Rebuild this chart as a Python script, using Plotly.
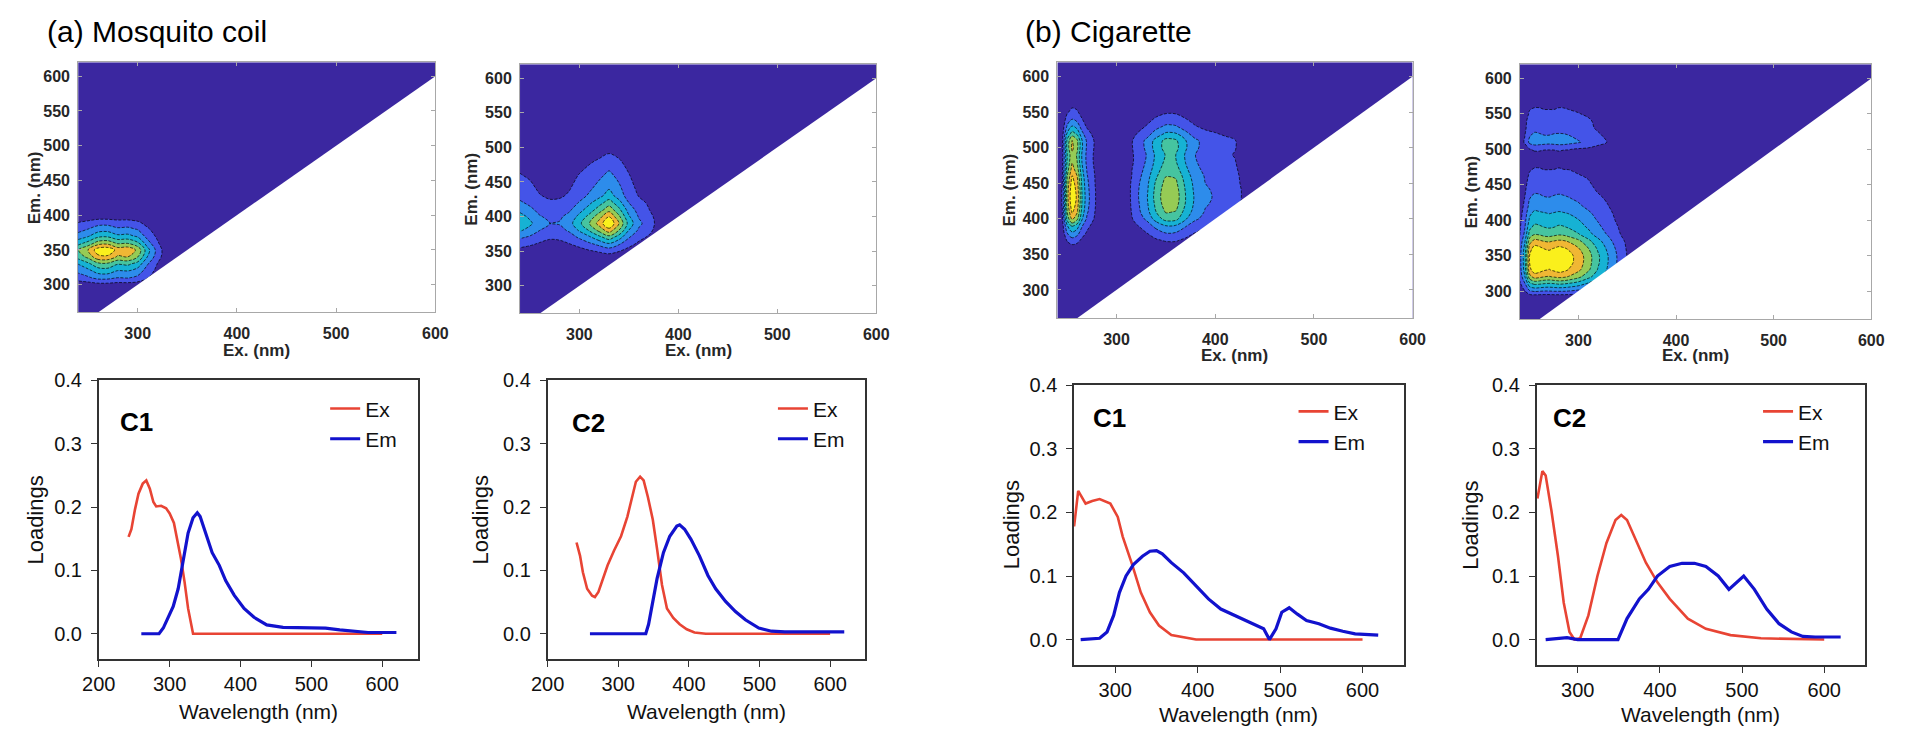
import plotly.graph_objects as go

W, H = 1906, 737
OFF = 8  # the page body keeps its default 8px margin, so the figure sits inside it
FW, FH = W - 2 * OFF, H - 2 * OFF
FONT = "Liberation Sans, Arial, Helvetica, sans-serif"

# ---------------- EEM contour maps (intensity, % of component maximum) ----------------
# (a) mosquito coil, component 1
a1_ex = [240, 250, 260, 270, 280, 290, 300, 310, 320, 330, 340, 600]
a1_em = [260, 290, 300, 310, 320, 330, 340, 350, 360, 370, 380, 390, 400, 410, 620]
a1_z = [
    [0, 0, 0, 0, 0, 0, 0, 0, 0, 0, 0, 0],
    [0, 0, 0, 0, 0, 0, 0, 0, 0, 0, 0, 0],
    [5, 6, 8, 8, 7, 7, 6, 3, 2, 0, 0, 0],
    [19, 23, 29, 29, 25, 26, 22, 13, 6, 1, 0, 0],
    [28, 34, 43, 44, 37, 38, 32, 19, 9, 1, 0, 0],
    [38, 47, 59, 60, 51, 53, 45, 26, 12, 2, 0, 0],
    [55, 66, 84, 85, 73, 75, 63, 37, 18, 3, 0, 0],
    [62, 75, 95, 97, 83, 85, 72, 42, 20, 3, 0, 0],
    [45, 54, 68, 70, 60, 61, 52, 30, 14, 2, 0, 0],
    [30, 36, 46, 47, 40, 41, 35, 20, 10, 1, 0, 0],
    [20, 25, 31, 32, 27, 28, 24, 14, 7, 1, 0, 0],
    [12, 15, 19, 19, 17, 17, 14, 8, 4, 1, 0, 0],
    [2, 2, 3, 3, 2, 3, 2, 1, 1, 0, 0, 0],
    [0, 0, 0, 0, 0, 0, 0, 0, 0, 0, 0, 0],
    [0, 0, 0, 0, 0, 0, 0, 0, 0, 0, 0, 0],
]

# (a) mosquito coil, component 2
a2_ex = [240, 250, 260, 270, 280, 290, 300, 310, 320, 330, 340, 350, 360, 370, 380, 390, 400, 600]
a2_em = [260, 330, 340, 350, 360, 370, 380, 390, 400, 410, 420, 430, 440, 460, 480, 500, 520, 620]
a2_z = [
    [0, 0, 0, 0, 0, 0, 0, 0, 0, 0, 0, 0, 0, 0, 0, 0, 0, 0],
    [0, 0, 0, 0, 0, 0, 0, 0, 0, 0, 0, 0, 0, 0, 0, 0, 0, 0],
    [2, 2, 2, 1, 1, 2, 2, 3, 4, 5, 4, 2, 1, 1, 0, 0, 0, 0],
    [8, 7, 5, 4, 4, 6, 8, 11, 14, 17, 13, 8, 5, 3, 1, 0, 0, 0],
    [17, 14, 11, 9, 9, 12, 16, 22, 28, 35, 26, 16, 10, 7, 3, 1, 0, 0],
    [27, 23, 17, 14, 15, 19, 27, 35, 46, 57, 43, 26, 16, 11, 5, 1, 0, 0],
    [39, 33, 25, 21, 21, 27, 39, 51, 66, 82, 62, 37, 23, 16, 7, 2, 0, 0],
    [48, 40, 30, 25, 26, 33, 47, 62, 80, 100, 75, 45, 28, 19, 8, 2, 0, 0],
    [42, 35, 26, 22, 23, 29, 41, 54, 70, 87, 65, 39, 24, 17, 7, 2, 0, 0],
    [34, 28, 21, 18, 18, 23, 33, 43, 56, 70, 53, 32, 20, 13, 6, 1, 0, 0],
    [27, 22, 17, 14, 15, 18, 26, 35, 45, 56, 42, 25, 16, 11, 4, 1, 0, 0],
    [21, 17, 13, 11, 11, 14, 20, 27, 34, 43, 32, 19, 12, 8, 3, 1, 0, 0],
    [18, 15, 11, 9, 10, 12, 17, 23, 30, 37, 28, 17, 10, 7, 3, 1, 0, 0],
    [13, 11, 8, 7, 7, 9, 13, 17, 22, 28, 21, 13, 8, 5, 2, 1, 0, 0],
    [9, 7, 5, 5, 5, 6, 8, 11, 14, 18, 14, 8, 5, 3, 1, 0, 0, 0],
    [4, 3, 2, 2, 2, 3, 4, 5, 6, 8, 6, 4, 2, 2, 1, 0, 0, 0],
    [0, 0, 0, 0, 0, 0, 0, 0, 0, 0, 0, 0, 0, 0, 0, 0, 0, 0],
    [0, 0, 0, 0, 0, 0, 0, 0, 0, 0, 0, 0, 0, 0, 0, 0, 0, 0],
]

# (b) cigarette, left map
b1_ex = [240, 245, 250, 255, 260, 265, 270, 280, 290, 310, 320, 330, 340, 350, 360, 370, 380, 390, 400, 410, 420, 430, 440, 600]
b1_em = [260, 350, 360, 370, 380, 390, 400, 410, 420, 430, 440, 450, 460, 470, 480, 490, 500, 510, 520, 530, 540, 550, 560, 570, 580, 620]
b1_z = [
    [0, 0, 0, 0, 0, 0, 0, 0, 0, 0, 0, 0, 0, 0, 0, 0, 0, 0, 0, 0, 0, 0, 0, 0],
    [0, 0, 0, 0, 0, 0, 0, 0, 0, 0, 0, 0, 0, 0, 0, 0, 0, 0, 0, 0, 0, 0, 0, 0],
    [1, 1, 6, 8, 7, 4, 2, 1, 0, 0, 2, 3, 4, 6, 6, 4, 3, 2, 2, 2, 1, 1, 0, 0],
    [2, 3, 14, 20, 17, 10, 6, 2, 0, 1, 4, 7, 11, 14, 14, 10, 7, 5, 5, 4, 3, 2, 1, 0],
    [3, 5, 25, 35, 30, 18, 11, 4, 1, 2, 8, 12, 19, 25, 24, 18, 12, 9, 8, 7, 6, 4, 1, 0],
    [4, 7, 36, 52, 44, 26, 16, 5, 1, 3, 11, 18, 29, 37, 36, 26, 18, 14, 12, 10, 9, 5, 2, 0],
    [6, 10, 55, 78, 66, 39, 23, 8, 2, 5, 17, 27, 43, 55, 54, 39, 27, 21, 19, 16, 13, 8, 3, 0],
    [7, 12, 63, 90, 77, 45, 27, 9, 2, 5, 20, 32, 50, 64, 62, 45, 32, 24, 22, 18, 15, 9, 4, 0],
    [8, 13, 68, 97, 82, 49, 29, 10, 2, 6, 21, 34, 53, 69, 67, 49, 34, 26, 23, 19, 16, 10, 4, 0],
    [8, 13, 70, 100, 85, 50, 30, 10, 2, 6, 22, 35, 55, 71, 69, 50, 35, 27, 24, 20, 17, 10, 4, 0],
    [8, 13, 69, 98, 83, 49, 29, 10, 2, 6, 22, 34, 54, 70, 68, 49, 34, 26, 24, 20, 17, 10, 4, 0],
    [8, 12, 66, 94, 80, 47, 28, 9, 2, 6, 21, 33, 52, 67, 65, 47, 33, 25, 23, 19, 16, 9, 4, 0],
    [7, 11, 62, 88, 75, 44, 26, 9, 2, 5, 19, 31, 48, 62, 61, 44, 31, 24, 21, 18, 15, 9, 4, 0],
    [6, 10, 56, 80, 68, 40, 24, 8, 2, 5, 18, 28, 44, 57, 55, 40, 28, 22, 19, 16, 14, 8, 3, 0],
    [6, 10, 52, 74, 63, 37, 22, 7, 1, 4, 16, 26, 41, 53, 51, 37, 26, 20, 18, 15, 13, 7, 3, 0],
    [6, 9, 50, 72, 61, 36, 22, 7, 1, 4, 16, 25, 40, 51, 50, 36, 25, 19, 17, 14, 12, 7, 3, 0],
    [6, 10, 55, 78, 66, 39, 23, 8, 2, 5, 17, 27, 43, 55, 54, 39, 27, 21, 19, 16, 13, 8, 3, 0],
    [6, 10, 53, 76, 65, 38, 23, 8, 2, 5, 17, 27, 42, 54, 52, 38, 27, 21, 18, 15, 13, 8, 3, 0],
    [4, 7, 39, 55, 47, 28, 17, 6, 1, 3, 12, 19, 30, 39, 38, 28, 19, 15, 13, 11, 9, 6, 2, 0],
    [3, 5, 27, 38, 32, 19, 11, 4, 1, 2, 8, 13, 21, 27, 26, 19, 13, 10, 9, 8, 6, 4, 2, 0],
    [2, 3, 18, 25, 21, 13, 8, 3, 1, 2, 6, 9, 14, 18, 17, 13, 9, 7, 6, 5, 4, 3, 1, 0],
    [1, 2, 11, 16, 14, 8, 5, 2, 0, 1, 4, 6, 9, 11, 11, 8, 6, 4, 4, 3, 3, 2, 1, 0],
    [1, 1, 7, 10, 9, 5, 3, 1, 0, 1, 2, 4, 6, 7, 7, 5, 4, 3, 2, 2, 2, 1, 0, 0],
    [0, 1, 3, 4, 3, 2, 1, 0, 0, 0, 1, 1, 2, 3, 3, 2, 1, 1, 1, 1, 1, 0, 0, 0],
    [0, 0, 0, 0, 0, 0, 0, 0, 0, 0, 0, 0, 0, 0, 0, 0, 0, 0, 0, 0, 0, 0, 0, 0],
    [0, 0, 0, 0, 0, 0, 0, 0, 0, 0, 0, 0, 0, 0, 0, 0, 0, 0, 0, 0, 0, 0, 0, 0],
]

# (b) cigarette, right map
b2_ex = [240, 245, 250, 255, 260, 265, 270, 275, 280, 285, 290, 300, 310, 320, 330, 340, 350, 360, 600]
b2_em = [260, 290, 300, 310, 320, 330, 340, 350, 360, 370, 380, 390, 400, 410, 420, 430, 440, 450, 460, 470,
         480, 490, 500, 510, 520, 530, 540, 550, 560, 570, 620]
b2_z = [
    [0, 0, 0, 0, 0, 0, 0, 0, 0, 0, 0, 0, 0, 0, 0, 0, 0, 0, 0],
    [0, 0, 0, 0, 0, 0, 0, 0, 0, 0, 0, 0, 0, 0, 0, 0, 0, 0, 0],
    [5, 12, 24, 27, 26, 25, 25, 26, 26, 26, 25, 22, 18, 14, 10, 6, 3, 1, 0],
    [10, 23, 46, 52, 51, 49, 48, 49, 51, 50, 48, 43, 35, 27, 20, 12, 6, 2, 0],
    [16, 36, 70, 80, 78, 75, 74, 76, 78, 77, 74, 66, 54, 42, 30, 19, 10, 3, 0],
    [19, 43, 84, 95, 93, 89, 87, 90, 93, 91, 87, 78, 65, 49, 36, 23, 11, 4, 0],
    [20, 45, 88, 100, 98, 94, 92, 95, 98, 96, 92, 82, 68, 52, 38, 24, 12, 4, 0],
    [20, 45, 88, 100, 98, 94, 92, 95, 98, 96, 92, 82, 68, 52, 38, 24, 12, 4, 0],
    [19, 42, 82, 93, 91, 87, 86, 88, 91, 89, 86, 76, 63, 48, 35, 22, 11, 4, 0],
    [16, 36, 70, 80, 78, 75, 74, 76, 78, 77, 74, 66, 54, 42, 30, 19, 10, 3, 0],
    [12, 28, 55, 62, 61, 58, 57, 59, 61, 60, 57, 51, 42, 32, 24, 15, 7, 2, 0],
    [11, 24, 47, 53, 52, 50, 49, 50, 52, 51, 49, 43, 36, 28, 20, 13, 6, 2, 0],
    [9, 21, 40, 46, 45, 43, 42, 44, 45, 44, 42, 38, 31, 24, 17, 11, 6, 2, 0],
    [8, 18, 35, 40, 39, 38, 37, 38, 39, 38, 37, 33, 27, 21, 15, 10, 5, 2, 0],
    [7, 15, 29, 33, 32, 31, 30, 31, 32, 32, 30, 27, 22, 17, 13, 8, 4, 1, 0],
    [6, 13, 25, 28, 27, 26, 26, 27, 27, 27, 26, 23, 19, 15, 11, 7, 3, 1, 0],
    [5, 11, 21, 24, 24, 23, 22, 23, 24, 23, 22, 20, 16, 12, 9, 6, 3, 1, 0],
    [4, 9, 18, 20, 20, 19, 18, 19, 20, 19, 18, 16, 14, 10, 8, 5, 2, 1, 0],
    [3, 8, 15, 17, 17, 16, 16, 16, 17, 16, 16, 14, 12, 9, 6, 4, 2, 1, 0],
    [3, 6, 12, 14, 14, 13, 13, 13, 14, 13, 13, 11, 10, 7, 5, 3, 2, 1, 0],
    [2, 5, 9, 10, 10, 9, 9, 10, 10, 10, 9, 8, 7, 5, 4, 2, 1, 0, 0],
    [2, 4, 7, 8, 8, 8, 7, 8, 8, 8, 7, 7, 5, 4, 3, 2, 1, 0, 0],
    [3, 6, 12, 14, 14, 13, 13, 13, 14, 13, 13, 11, 10, 7, 5, 3, 2, 1, 0],
    [6, 14, 28, 32, 31, 30, 29, 30, 31, 31, 29, 26, 22, 17, 12, 8, 4, 1, 0],
    [5, 12, 24, 27, 26, 25, 25, 26, 26, 26, 25, 22, 18, 14, 10, 6, 3, 1, 0],
    [4, 10, 19, 22, 22, 21, 20, 21, 22, 21, 20, 18, 15, 11, 8, 5, 3, 1, 0],
    [4, 9, 18, 20, 20, 19, 18, 19, 20, 19, 18, 16, 14, 10, 8, 5, 2, 1, 0],
    [3, 7, 14, 16, 16, 15, 15, 15, 16, 15, 15, 13, 11, 8, 6, 4, 2, 1, 0],
    [2, 5, 11, 12, 12, 11, 11, 11, 12, 12, 11, 10, 8, 6, 5, 3, 1, 0, 0],
    [1, 1, 3, 3, 3, 3, 3, 3, 3, 3, 3, 2, 2, 2, 1, 1, 0, 0, 0],
    [0, 0, 0, 0, 0, 0, 0, 0, 0, 0, 0, 0, 0, 0, 0, 0, 0, 0, 0],
]

# ---------------- loadings ----------------
a1_exc_wl = [242, 246, 251, 256, 262, 267, 272, 277, 281, 288, 295, 300, 306, 311, 316, 321, 326, 333, 400, 500, 600]
a1_exc = [0.153, 0.165, 0.196, 0.221, 0.237, 0.242, 0.229, 0.208, 0.201, 0.202, 0.198, 0.190, 0.175, 0.149,
          0.118, 0.082, 0.040, 0.0, 0.0, 0.0, 0.0]
a1_emi_wl = [260, 285, 291, 298, 305, 312, 319, 326, 333, 339, 343, 351, 360, 370, 379, 391, 405, 419, 437, 460,
             480, 500, 520, 540, 560, 580, 600, 620]
a1_emi = [0.0, 0.0, 0.009, 0.025, 0.043, 0.071, 0.113, 0.159, 0.183, 0.191, 0.185, 0.159, 0.128, 0.108, 0.084,
          0.061, 0.040, 0.026, 0.014, 0.010, 0.010, 0.010, 0.009, 0.006, 0.004, 0.002, 0.002, 0.002]

a2_exc_wl = [241, 246, 250, 256, 263, 267, 272, 278, 285, 294, 304, 313, 320, 325, 331, 336, 342, 349, 355, 362,
             369, 378, 387, 397, 408, 424, 500, 600]
a2_exc = [0.144, 0.123, 0.097, 0.071, 0.060, 0.058, 0.066, 0.087, 0.108, 0.131, 0.154, 0.185, 0.216, 0.240, 0.248,
          0.242, 0.216, 0.180, 0.134, 0.077, 0.040, 0.025, 0.015, 0.007, 0.002, 0.0, 0.0, 0.0]
a2_emi_wl = [260, 339, 343, 348, 355, 364, 373, 383, 387, 394, 403, 415, 427, 438, 452, 466, 480, 499, 517, 536,
             564, 592, 620]
a2_emi = [0.0, 0.0, 0.015, 0.046, 0.087, 0.128, 0.154, 0.170, 0.172, 0.165, 0.149, 0.123, 0.092, 0.071, 0.051,
          0.035, 0.022, 0.009, 0.004, 0.003, 0.003, 0.003, 0.003]

b1_exc_wl = [250, 255, 264, 272, 281, 294, 303, 309, 320, 331, 342, 353, 368, 398, 500, 600]
b1_exc = [0.178, 0.234, 0.214, 0.218, 0.221, 0.214, 0.193, 0.162, 0.120, 0.074, 0.043, 0.022, 0.007, 0.0, 0.0, 0.0]
b1_emi_wl = [258, 281, 290, 298, 305, 313, 322, 333, 342, 350, 357, 368, 383, 398, 413, 428, 443, 457, 472, 480,
             487, 495, 502, 511, 521, 532, 547, 561, 576, 591, 619]
b1_emi = [0.0, 0.002, 0.012, 0.038, 0.074, 0.100, 0.118, 0.131, 0.139, 0.140, 0.135, 0.121, 0.105, 0.084, 0.064,
          0.048, 0.039, 0.030, 0.022, 0.017, 0.0, 0.017, 0.043, 0.050, 0.040, 0.030, 0.025, 0.018, 0.013, 0.009, 0.007]

b2_exc_wl = [251, 257, 261, 268, 276, 283, 290, 296, 303, 313, 324, 335, 346, 353, 360, 372, 383, 397, 412, 434,
             456, 486, 523, 600]
b2_exc = [0.222, 0.265, 0.258, 0.203, 0.131, 0.058, 0.012, 0.0, 0.002, 0.038, 0.100, 0.152, 0.188, 0.196, 0.188,
          0.152, 0.121, 0.090, 0.064, 0.033, 0.017, 0.007, 0.002, 0.0]
b2_emi_wl = [261, 287, 300, 338, 349, 360, 375, 386, 397, 412, 427, 442, 456, 471, 484, 502, 515, 530, 545, 560,
             574, 589, 620]
b2_emi = [0.0, 0.003, 0.0, 0.0, 0.0, 0.033, 0.064, 0.079, 0.100, 0.115, 0.120, 0.120, 0.115, 0.100, 0.079, 0.100,
          0.079, 0.048, 0.025, 0.012, 0.005, 0.004, 0.004]

eem_ex_ticks = [300, 400, 500, 600]
eem_em_ticks = [300, 350, 400, 450, 500, 550, 600]
load_ticks = [0.0, 0.1, 0.2, 0.3, 0.4]
wl_ticks_a = [200, 300, 400, 500, 600]
wl_ticks_b = [300, 400, 500, 600]

# parula-like colour for each filled contour band (lowest first)
band_colors = ["rgb(59,39,160)", "rgb(68,84,232)", "rgb(45,140,235)", "rgb(22,178,212)",
               "rgb(70,196,160)", "rgb(150,203,85)", "rgb(240,183,52)", "rgb(250,240,28)"]
RED = "rgb(232,68,52)"
BLUE = "rgb(18,18,205)"
DARK = "#262626"
FRAME = "#a8a8a8"
EX_RANGE = [240, 600]
EM_RANGE = [260, 620]


def px(x):
    return (x - OFF) / FW


def py(y):
    return 1 - (y - OFF) / FH


def sfx(n):
    return "" if n == 1 else str(n)


fig = go.Figure()
annotations = []

# ---------- contour panels ----------
eem_panels = [
    (a1_ex, a1_em, a1_z, 1, (62, 425, 52, 306), 18, 345),
    (a2_ex, a2_em, a2_z, 2, (511, 873, 54, 307), 462, 345),
    (b1_ex, b1_em, b1_z, 3, (1057, 1418, 52, 312), 1008, 350),
    (b2_ex, b2_em, b2_z, 4, (1527, 1884, 54, 313), 1478, 350),
]
colorscale = [[i / (len(band_colors) - 1), c] for i, c in enumerate(band_colors)]
eem_tick = dict(family=FONT, size=16, color=DARK, weight="bold")

for ex, em, z, n, (x0, x1, y0, y1), em_lab_x, ex_lab_y in eem_panels:
    fig.add_trace(go.Contour(
        x=ex, y=em, z=z, xaxis="x" + sfx(n), yaxis="y" + sfx(n),
        colorscale=colorscale, autocontour=False,
        contours=dict(start=12.5, end=87.5, size=12.5, coloring="fill"),
        line=dict(color="rgba(0,0,0,0.85)", width=0.8, dash="3px,1.5px", smoothing=1),
        showscale=False, hoverinfo="skip", showlegend=False))
    # blank the region below the Em = Ex diagonal
    fig.add_trace(go.Scatter(
        x=[EM_RANGE[0], EX_RANGE[1], EX_RANGE[1], EM_RANGE[0]],
        y=[EM_RANGE[0], EX_RANGE[1], EM_RANGE[0], EM_RANGE[0]],
        xaxis="x" + sfx(n), yaxis="y" + sfx(n), mode="lines", fill="toself",
        fillcolor="white", line=dict(width=0, color="white"),
        hoverinfo="skip", showlegend=False))
    common = dict(showline=True, linecolor=FRAME, linewidth=1, mirror="ticks", ticks="inside",
                  ticklen=4, tickcolor=FRAME, showgrid=False, zeroline=False, tickfont=eem_tick)
    fig.update_layout({
        "xaxis" + sfx(n): dict(domain=[px(x0), px(x1)], range=EX_RANGE, tickvals=eem_ex_ticks,
                               anchor="y" + sfx(n), ticklabelstandoff=6, **common),
        "yaxis" + sfx(n): dict(domain=[py(y1), py(y0)], range=EM_RANGE, tickvals=eem_em_ticks,
                               anchor="x" + sfx(n), ticklabelstandoff=4, **common),
    })
    annotations.append(dict(text="Em. (nm)", x=px(em_lab_x), y=py((y0 + y1) / 2), textangle=-90,
                            font=dict(family=FONT, size=17, color=DARK, weight="bold")))
    annotations.append(dict(text="Ex. (nm)", x=px((x0 + x1) / 2), y=py(ex_lab_y),
                            font=dict(family=FONT, size=17, color=DARK, weight="bold")))

# ---------- loading panels ----------
load_panels = [
    (a1_exc_wl, a1_exc, a1_emi_wl, a1_emi, 5, (83, 407, 375, 658), [200, 650], wl_ticks_a, "legend", "C1",
     (103, 417), (313, 383), 19, 711),
    (a2_exc_wl, a2_exc, a2_emi_wl, a2_emi, 6, (539, 862, 375, 658), [200, 650], wl_ticks_a, "legend2", "C2",
     (562, 418), (768, 383), 471, 711),
    (b1_exc_wl, b1_exc, b1_emi_wl, b1_emi, 7, (1074, 1409, 380, 664), [250, 650], wl_ticks_b, "legend3", "C1",
     (1091, 413), (1297, 386), 1010, 714),
    (b2_exc_wl, b2_exc, b2_emi_wl, b2_emi, 8, (1544, 1878, 380, 664), [250, 650], wl_ticks_b, "legend4", "C2",
     (1559, 413), (1769, 386), 1476, 714),
]
line_tick = dict(family=FONT, size=20, color="#111111")

for (xw, xv, mw, mv, n, (x0, x1, y0, y1), xr, xt, leg, comp,
     (cx, cy), (lx, ly), load_x, wave_y) in load_panels:
    fig.add_trace(go.Scatter(x=xw, y=xv, mode="lines", name="Ex", line=dict(color=RED, width=2.6),
                             xaxis="x" + sfx(n), yaxis="y" + sfx(n), legend=leg, hoverinfo="skip"))
    fig.add_trace(go.Scatter(x=mw, y=mv, mode="lines", name="Em", line=dict(color=BLUE, width=3.2),
                             xaxis="x" + sfx(n), yaxis="y" + sfx(n), legend=leg, hoverinfo="skip"))
    common = dict(showline=True, linecolor="#333333", linewidth=1.6, mirror=True, ticks="outside",
                  ticklen=6, tickwidth=1.4, tickcolor="#333333", showgrid=False, zeroline=False,
                  tickfont=line_tick)
    fig.update_layout({
        "xaxis" + sfx(n): dict(domain=[px(x0), px(x1)], range=xr, tickvals=xt,
                               anchor="y" + sfx(n), ticklabelstandoff=0, **common),
        "yaxis" + sfx(n): dict(domain=[py(y1), py(y0)], range=[-0.04, 0.4], tickvals=load_ticks,
                               tickformat=".1f", anchor="x" + sfx(n), ticklabelstandoff=5, **common),
        leg: dict(x=px(lx), y=py(ly), xanchor="left", yanchor="top", bgcolor="rgba(0,0,0,0)",
                  font=dict(family=FONT, size=21, color="#111111"), tracegroupgap=0),
    })
    annotations.append(dict(text=comp, x=px(cx), y=py(cy), xanchor="left",
                            font=dict(family=FONT, size=26, color="#000000", weight="bold")))
    annotations.append(dict(text="Loadings", x=px(load_x), y=py((y0 + y1) / 2), textangle=-90,
                            font=dict(family=FONT, size=22, color="#111111")))
    annotations.append(dict(text="Wavelength (nm)", x=px((x0 + x1) / 2), y=py(wave_y),
                            font=dict(family=FONT, size=21, color="#111111")))

# ---------- panel titles ----------
annotations.append(dict(text="(a) Mosquito coil", x=px(28), y=py(21), xanchor="left",
                        font=dict(family=FONT, size=30, color="#000000")))
annotations.append(dict(text="(b) Cigarette", x=px(1022), y=py(21), xanchor="left",
                        font=dict(family=FONT, size=30, color="#000000")))

for a in annotations:
    a.update(xref="paper", yref="paper", showarrow=False)
    a.setdefault("xanchor", "center")
    a.setdefault("yanchor", "middle")

fig.update_layout(width=FW, height=FH, margin=dict(l=0, r=0, t=0, b=0),
                  paper_bgcolor="white", plot_bgcolor="white",
                  annotations=annotations, showlegend=True)

fig.write_html("out.html")
